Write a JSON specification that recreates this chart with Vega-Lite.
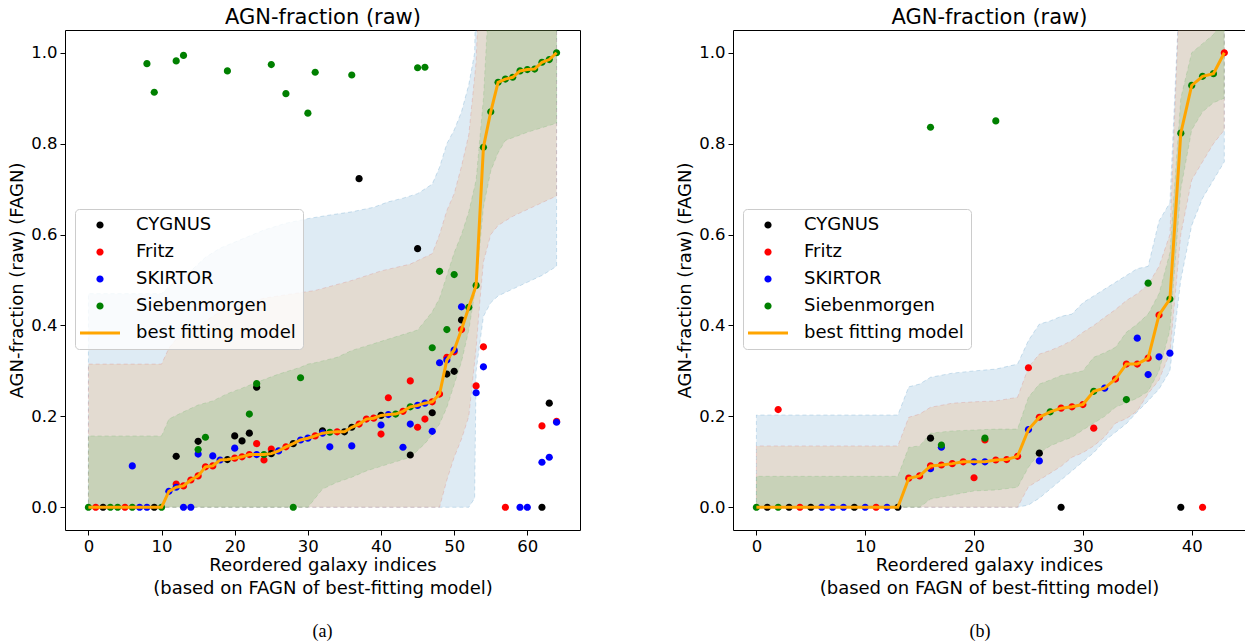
{
 "$schema": "https://vega.github.io/schema/vega-lite/v6.json",
 "padding": {"left": 8, "top": 5, "right": 0, "bottom": 0},
 "config": {
  "font": "DejaVu Sans",
  "view": {"stroke": "#000000", "strokeWidth": 1},
  "axis": {"grid": false, "domain": false, "tickColor": "#000000", "tickSize": 5, "tickWidth": 1, "labelColor": "#000000", "labelFontSize": 16.5, "labelPadding": 3, "titleColor": "#000000", "titleFontSize": 18, "titleFontWeight": "normal"}
 },
 "spacing": 95,
 "resolve": {"scale": {"color": "independent", "shape": "independent"}, "legend": {"color": "independent", "shape": "independent"}},
 "datasets": {
  "bandsA": [
   {"i":0,"band":"outer","lo":0,"hi":0.47},{"i":10,"band":"outer","lo":0,"hi":0.47},{"i":12,"band":"outer","lo":0,"hi":0.5},{"i":14,"band":"outer","lo":0,"hi":0.52},{"i":16,"band":"outer","lo":0,"hi":0.55},{"i":18,"band":"outer","lo":0,"hi":0.57},{"i":21,"band":"outer","lo":0,"hi":0.59},{"i":24,"band":"outer","lo":0,"hi":0.61},{"i":27,"band":"outer","lo":0,"hi":0.625},{"i":30,"band":"outer","lo":0,"hi":0.635},{"i":33,"band":"outer","lo":0,"hi":0.643},{"i":36,"band":"outer","lo":0,"hi":0.65},{"i":39,"band":"outer","lo":0,"hi":0.66},{"i":41,"band":"outer","lo":0,"hi":0.672},{"i":43,"band":"outer","lo":0,"hi":0.68},{"i":45,"band":"outer","lo":0,"hi":0.69},{"i":47,"band":"outer","lo":0,"hi":0.711},{"i":48,"band":"outer","lo":0,"hi":0.748},{"i":49,"band":"outer","lo":0,"hi":0.8},{"i":50,"band":"outer","lo":0,"hi":0.83},{"i":51,"band":"outer","lo":0,"hi":0.87},{"i":52,"band":"outer","lo":0,"hi":0.93},{"i":52.8,"band":"outer","lo":0.02,"hi":1.0},{"i":53,"band":"outer","lo":0.3,"hi":1.2},{"i":54,"band":"outer","lo":0.42,"hi":1.2},{"i":55,"band":"outer","lo":0.45,"hi":1.2},{"i":56,"band":"outer","lo":0.465,"hi":1.2},{"i":58,"band":"outer","lo":0.48,"hi":1.2},{"i":60,"band":"outer","lo":0.495,"hi":1.2},{"i":62,"band":"outer","lo":0.51,"hi":1.2},{"i":64,"band":"outer","lo":0.53,"hi":1.2},
   {"i":0,"band":"middle","lo":0,"hi":0.315},{"i":10,"band":"middle","lo":0,"hi":0.315},{"i":11,"band":"middle","lo":0,"hi":0.35},{"i":12,"band":"middle","lo":0,"hi":0.37},{"i":14,"band":"middle","lo":0,"hi":0.39},{"i":16,"band":"middle","lo":0,"hi":0.41},{"i":18,"band":"middle","lo":0,"hi":0.43},{"i":20,"band":"middle","lo":0,"hi":0.44},{"i":24,"band":"middle","lo":0,"hi":0.46},{"i":28,"band":"middle","lo":0,"hi":0.47},{"i":31,"band":"middle","lo":0,"hi":0.477},{"i":36,"band":"middle","lo":0,"hi":0.499},{"i":40,"band":"middle","lo":0,"hi":0.52},{"i":44,"band":"middle","lo":0,"hi":0.535},{"i":47,"band":"middle","lo":0,"hi":0.558},{"i":48,"band":"middle","lo":0,"hi":0.6},{"i":49,"band":"middle","lo":0.06,"hi":0.653},{"i":50,"band":"middle","lo":0.11,"hi":0.69},{"i":51,"band":"middle","lo":0.15,"hi":0.75},{"i":52,"band":"middle","lo":0.2,"hi":0.82},{"i":53,"band":"middle","lo":0.35,"hi":0.98},{"i":53.5,"band":"middle","lo":0.45,"hi":1.2},{"i":54,"band":"middle","lo":0.54,"hi":1.2},{"i":55,"band":"middle","lo":0.6,"hi":1.2},{"i":56,"band":"middle","lo":0.62,"hi":1.2},{"i":58,"band":"middle","lo":0.64,"hi":1.2},{"i":60,"band":"middle","lo":0.655,"hi":1.2},{"i":62,"band":"middle","lo":0.67,"hi":1.2},{"i":64,"band":"middle","lo":0.685,"hi":1.2},
   {"i":0,"band":"inner","lo":0,"hi":0.157},{"i":10,"band":"inner","lo":0,"hi":0.157},{"i":11,"band":"inner","lo":0,"hi":0.194},{"i":13,"band":"inner","lo":0,"hi":0.21},{"i":15,"band":"inner","lo":0,"hi":0.225},{"i":17,"band":"inner","lo":0,"hi":0.234},{"i":19,"band":"inner","lo":0,"hi":0.25},{"i":21,"band":"inner","lo":0,"hi":0.262},{"i":23,"band":"inner","lo":0,"hi":0.275},{"i":26,"band":"inner","lo":0,"hi":0.293},{"i":29,"band":"inner","lo":0,"hi":0.308},{"i":30,"band":"inner","lo":0,"hi":0.315},{"i":31,"band":"inner","lo":0.02,"hi":0.318},{"i":32,"band":"inner","lo":0.04,"hi":0.322},{"i":34,"band":"inner","lo":0.055,"hi":0.33},{"i":36,"band":"inner","lo":0.066,"hi":0.345},{"i":38,"band":"inner","lo":0.08,"hi":0.355},{"i":40,"band":"inner","lo":0.09,"hi":0.365},{"i":42,"band":"inner","lo":0.1,"hi":0.375},{"i":44,"band":"inner","lo":0.11,"hi":0.385},{"i":45,"band":"inner","lo":0.125,"hi":0.39},{"i":46,"band":"inner","lo":0.14,"hi":0.41},{"i":47,"band":"inner","lo":0.16,"hi":0.43},{"i":48,"band":"inner","lo":0.183,"hi":0.46},{"i":49,"band":"inner","lo":0.22,"hi":0.51},{"i":50,"band":"inner","lo":0.27,"hi":0.56},{"i":51,"band":"inner","lo":0.32,"hi":0.6},{"i":52,"band":"inner","lo":0.39,"hi":0.65},{"i":53,"band":"inner","lo":0.49,"hi":0.72},{"i":54,"band":"inner","lo":0.66,"hi":0.9},{"i":55,"band":"inner","lo":0.74,"hi":1.2},{"i":56,"band":"inner","lo":0.78,"hi":1.2},{"i":57,"band":"inner","lo":0.807,"hi":1.2},{"i":60,"band":"inner","lo":0.825,"hi":1.2},{"i":64,"band":"inner","lo":0.845,"hi":1.2}
  ],
  "bandsB": [
   {"i":0,"band":"outer","lo":0,"hi":0.203},{"i":13,"band":"outer","lo":0,"hi":0.203},{"i":14,"band":"outer","lo":0,"hi":0.265},{"i":15,"band":"outer","lo":0,"hi":0.271},{"i":16,"band":"outer","lo":0,"hi":0.286},{"i":18,"band":"outer","lo":0,"hi":0.295},{"i":20,"band":"outer","lo":0,"hi":0.3},{"i":22,"band":"outer","lo":0,"hi":0.304},{"i":24,"band":"outer","lo":0,"hi":0.315},{"i":25,"band":"outer","lo":0.005,"hi":0.367},{"i":26,"band":"outer","lo":0.02,"hi":0.403},{"i":27,"band":"outer","lo":0.04,"hi":0.41},{"i":28,"band":"outer","lo":0.06,"hi":0.42},{"i":29,"band":"outer","lo":0.08,"hi":0.425},{"i":30,"band":"outer","lo":0.1,"hi":0.45},{"i":31,"band":"outer","lo":0.12,"hi":0.465},{"i":32,"band":"outer","lo":0.146,"hi":0.48},{"i":33,"band":"outer","lo":0.165,"hi":0.495},{"i":34,"band":"outer","lo":0.184,"hi":0.51},{"i":35,"band":"outer","lo":0.21,"hi":0.525},{"i":36,"band":"outer","lo":0.234,"hi":0.53},{"i":37,"band":"outer","lo":0.26,"hi":0.63},{"i":38,"band":"outer","lo":0.3,"hi":0.67},{"i":39,"band":"outer","lo":0.5,"hi":1.2},{"i":40,"band":"outer","lo":0.62,"hi":1.2},{"i":41,"band":"outer","lo":0.68,"hi":1.2},{"i":42,"band":"outer","lo":0.72,"hi":1.2},{"i":43,"band":"outer","lo":0.76,"hi":1.2},
   {"i":0,"band":"middle","lo":0,"hi":0.135},{"i":13,"band":"middle","lo":0,"hi":0.135},{"i":14,"band":"middle","lo":0,"hi":0.198},{"i":15,"band":"middle","lo":0,"hi":0.205},{"i":16,"band":"middle","lo":0,"hi":0.22},{"i":18,"band":"middle","lo":0,"hi":0.229},{"i":20,"band":"middle","lo":0,"hi":0.232},{"i":22,"band":"middle","lo":0,"hi":0.234},{"i":24,"band":"middle","lo":0,"hi":0.242},{"i":25,"band":"middle","lo":0.045,"hi":0.308},{"i":26,"band":"middle","lo":0.06,"hi":0.337},{"i":27,"band":"middle","lo":0.075,"hi":0.345},{"i":28,"band":"middle","lo":0.09,"hi":0.355},{"i":29,"band":"middle","lo":0.11,"hi":0.367},{"i":30,"band":"middle","lo":0.12,"hi":0.385},{"i":31,"band":"middle","lo":0.135,"hi":0.4},{"i":32,"band":"middle","lo":0.155,"hi":0.418},{"i":33,"band":"middle","lo":0.185,"hi":0.435},{"i":34,"band":"middle","lo":0.195,"hi":0.455},{"i":35,"band":"middle","lo":0.212,"hi":0.47},{"i":36,"band":"middle","lo":0.25,"hi":0.49},{"i":37,"band":"middle","lo":0.28,"hi":0.53},{"i":38,"band":"middle","lo":0.34,"hi":0.6},{"i":39,"band":"middle","lo":0.6,"hi":1.2},{"i":40,"band":"middle","lo":0.72,"hi":1.2},{"i":41,"band":"middle","lo":0.76,"hi":1.2},{"i":42,"band":"middle","lo":0.8,"hi":1.2},{"i":43,"band":"middle","lo":0.83,"hi":1.2},
   {"i":0,"band":"inner","lo":0,"hi":0.068},{"i":13,"band":"inner","lo":0,"hi":0.068},{"i":14,"band":"inner","lo":0,"hi":0.132},{"i":15,"band":"inner","lo":0,"hi":0.135},{"i":16,"band":"inner","lo":0.018,"hi":0.163},{"i":18,"band":"inner","lo":0.027,"hi":0.168},{"i":20,"band":"inner","lo":0.036,"hi":0.17},{"i":22,"band":"inner","lo":0.038,"hi":0.172},{"i":24,"band":"inner","lo":0.044,"hi":0.172},{"i":25,"band":"inner","lo":0.088,"hi":0.242},{"i":26,"band":"inner","lo":0.12,"hi":0.271},{"i":27,"band":"inner","lo":0.135,"hi":0.28},{"i":28,"band":"inner","lo":0.145,"hi":0.29},{"i":29,"band":"inner","lo":0.154,"hi":0.295},{"i":30,"band":"inner","lo":0.17,"hi":0.3},{"i":31,"band":"inner","lo":0.185,"hi":0.33},{"i":32,"band":"inner","lo":0.2,"hi":0.34},{"i":33,"band":"inner","lo":0.22,"hi":0.352},{"i":34,"band":"inner","lo":0.23,"hi":0.385},{"i":35,"band":"inner","lo":0.24,"hi":0.403},{"i":36,"band":"inner","lo":0.255,"hi":0.425},{"i":37,"band":"inner","lo":0.3,"hi":0.47},{"i":38,"band":"inner","lo":0.39,"hi":0.56},{"i":39,"band":"inner","lo":0.7,"hi":0.9},{"i":40,"band":"inner","lo":0.83,"hi":1.0},{"i":41,"band":"inner","lo":0.87,"hi":1.02},{"i":42,"band":"inner","lo":0.89,"hi":1.04},{"i":43,"band":"inner","lo":0.9,"hi":1.08}
  ],
  "ptsA": [
   {"i":6,"model":"SKIRTOR","value":0.091,"best":false},{"i":8,"model":"Siebenmorgen","value":0.976,"best":false},{"i":9,"model":"Siebenmorgen","value":0.913,"best":false},
   {"i":12,"model":"CYGNUS","value":0.112,"best":false},{"i":12,"model":"Fritz","value":0.051,"best":false},{"i":12,"model":"Siebenmorgen","value":0.982,"best":false},
   {"i":13,"model":"SKIRTOR","value":0,"best":false},{"i":13,"model":"Siebenmorgen","value":0.994,"best":false},{"i":14,"model":"SKIRTOR","value":0,"best":false},
   {"i":15,"model":"CYGNUS","value":0.145,"best":false},{"i":15,"model":"SKIRTOR","value":0.117,"best":false},{"i":15,"model":"Siebenmorgen","value":0.127,"best":false},
   {"i":16,"model":"Siebenmorgen","value":0.154,"best":false},{"i":17,"model":"SKIRTOR","value":0.113,"best":false},{"i":19,"model":"Siebenmorgen","value":0.96,"best":false},
   {"i":20,"model":"CYGNUS","value":0.157,"best":false},{"i":20,"model":"SKIRTOR","value":0.13,"best":false},{"i":21,"model":"CYGNUS","value":0.146,"best":false},
   {"i":22,"model":"CYGNUS","value":0.163,"best":false},{"i":22,"model":"Siebenmorgen","value":0.205,"best":false},
   {"i":23,"model":"CYGNUS","value":0.264,"best":false},{"i":23,"model":"Fritz","value":0.14,"best":false},{"i":23,"model":"Siebenmorgen","value":0.272,"best":false},
   {"i":24,"model":"Fritz","value":0.104,"best":false},{"i":25,"model":"Fritz","value":0.128,"best":false},{"i":25,"model":"Siebenmorgen","value":0.974,"best":false},
   {"i":27,"model":"Siebenmorgen","value":0.91,"best":false},{"i":28,"model":"Siebenmorgen","value":0,"best":false},{"i":29,"model":"Siebenmorgen","value":0.285,"best":false},
   {"i":30,"model":"Siebenmorgen","value":0.867,"best":false},{"i":31,"model":"Siebenmorgen","value":0.957,"best":false},{"i":32,"model":"CYGNUS","value":0.168,"best":false},
   {"i":33,"model":"SKIRTOR","value":0.133,"best":false},{"i":36,"model":"SKIRTOR","value":0.135,"best":false},{"i":36,"model":"Siebenmorgen","value":0.951,"best":false},
   {"i":37,"model":"CYGNUS","value":0.723,"best":false},{"i":40,"model":"Fritz","value":0.161,"best":false},{"i":40,"model":"SKIRTOR","value":0.181,"best":false},
   {"i":41,"model":"Fritz","value":0.241,"best":false},{"i":43,"model":"SKIRTOR","value":0.132,"best":false},
   {"i":44,"model":"CYGNUS","value":0.115,"best":false},{"i":44,"model":"Fritz","value":0.278,"best":false},{"i":44,"model":"SKIRTOR","value":0.183,"best":false},
   {"i":45,"model":"CYGNUS","value":0.569,"best":false},{"i":45,"model":"Fritz","value":0.176,"best":false},{"i":45,"model":"Siebenmorgen","value":0.967,"best":false},
   {"i":46,"model":"Fritz","value":0.194,"best":false},{"i":46,"model":"Siebenmorgen","value":0.968,"best":false},
   {"i":47,"model":"CYGNUS","value":0.208,"best":false},{"i":47,"model":"SKIRTOR","value":0.167,"best":false},{"i":47,"model":"Siebenmorgen","value":0.351,"best":false},
   {"i":48,"model":"SKIRTOR","value":0.318,"best":false},{"i":48,"model":"Siebenmorgen","value":0.519,"best":false},
   {"i":49,"model":"CYGNUS","value":0.293,"best":false},{"i":49,"model":"Fritz","value":0.33,"best":false},{"i":49,"model":"Siebenmorgen","value":0.391,"best":false},
   {"i":50,"model":"CYGNUS","value":0.299,"best":false},{"i":50,"model":"Fritz","value":0.342,"best":false},{"i":50,"model":"Siebenmorgen","value":0.512,"best":false},
   {"i":51,"model":"CYGNUS","value":0.412,"best":false},{"i":51,"model":"SKIRTOR","value":0.441,"best":false},
   {"i":53,"model":"Fritz","value":0.267,"best":false},{"i":53,"model":"SKIRTOR","value":0.252,"best":false},
   {"i":54,"model":"Fritz","value":0.353,"best":false},{"i":54,"model":"SKIRTOR","value":0.309,"best":false},
   {"i":57,"model":"Fritz","value":0,"best":false},{"i":59,"model":"SKIRTOR","value":0,"best":false},{"i":60,"model":"SKIRTOR","value":0,"best":false},
   {"i":62,"model":"CYGNUS","value":0,"best":false},{"i":62,"model":"Fritz","value":0.179,"best":false},{"i":62,"model":"SKIRTOR","value":0.099,"best":false},
   {"i":63,"model":"CYGNUS","value":0.229,"best":false},{"i":63,"model":"SKIRTOR","value":0.11,"best":false},
   {"i":64,"model":"Fritz","value":0.189,"best":false},{"i":64,"model":"SKIRTOR","value":0.187,"best":false},
   {"i":0,"model":"Siebenmorgen","value":0,"best":true},{"i":1,"model":"Fritz","value":0,"best":true},{"i":2,"model":"CYGNUS","value":0,"best":true},{"i":3,"model":"Siebenmorgen","value":0,"best":true},{"i":4,"model":"Siebenmorgen","value":0,"best":true},{"i":5,"model":"Fritz","value":0,"best":true},{"i":6,"model":"Siebenmorgen","value":0,"best":true},{"i":7,"model":"SKIRTOR","value":0,"best":true},{"i":8,"model":"SKIRTOR","value":0,"best":true},{"i":9,"model":"CYGNUS","value":0,"best":true},{"i":10,"model":"Siebenmorgen","value":0,"best":true},
   {"i":11,"model":"SKIRTOR","value":0.035,"best":true},{"i":12,"model":"SKIRTOR","value":0.044,"best":true},{"i":13,"model":"Fritz","value":0.047,"best":true},{"i":14,"model":"Fritz","value":0.06,"best":true},{"i":15,"model":"Fritz","value":0.069,"best":true},{"i":16,"model":"Fritz","value":0.089,"best":true},{"i":17,"model":"Fritz","value":0.091,"best":true},{"i":18,"model":"SKIRTOR","value":0.104,"best":true},{"i":19,"model":"CYGNUS","value":0.105,"best":true},{"i":20,"model":"Fritz","value":0.108,"best":true},
   {"i":21,"model":"Fritz","value":0.111,"best":true},{"i":22,"model":"Fritz","value":0.116,"best":true},{"i":23,"model":"SKIRTOR","value":0.116,"best":true},{"i":24,"model":"Siebenmorgen","value":0.116,"best":true},{"i":25,"model":"CYGNUS","value":0.118,"best":true},{"i":26,"model":"SKIRTOR","value":0.124,"best":true},{"i":27,"model":"Fritz","value":0.133,"best":true},{"i":28,"model":"CYGNUS","value":0.14,"best":true},{"i":29,"model":"SKIRTOR","value":0.148,"best":true},{"i":30,"model":"SKIRTOR","value":0.152,"best":true},
   {"i":31,"model":"Fritz","value":0.157,"best":true},{"i":32,"model":"SKIRTOR","value":0.163,"best":true},{"i":33,"model":"Siebenmorgen","value":0.165,"best":true},{"i":34,"model":"Fritz","value":0.166,"best":true},{"i":35,"model":"CYGNUS","value":0.166,"best":true},{"i":36,"model":"CYGNUS","value":0.176,"best":true},{"i":37,"model":"Fritz","value":0.183,"best":true},{"i":38,"model":"Fritz","value":0.194,"best":true},{"i":39,"model":"Fritz","value":0.196,"best":true},{"i":40,"model":"CYGNUS","value":0.202,"best":true},
   {"i":41,"model":"SKIRTOR","value":0.204,"best":true},{"i":42,"model":"Siebenmorgen","value":0.205,"best":true},{"i":43,"model":"Fritz","value":0.211,"best":true},{"i":44,"model":"Siebenmorgen","value":0.221,"best":true},{"i":45,"model":"SKIRTOR","value":0.224,"best":true},{"i":46,"model":"SKIRTOR","value":0.229,"best":true},{"i":47,"model":"Fritz","value":0.232,"best":true},{"i":48,"model":"Fritz","value":0.249,"best":true},{"i":49,"model":"SKIRTOR","value":0.324,"best":true},{"i":50,"model":"SKIRTOR","value":0.346,"best":true},
   {"i":51,"model":"Fritz","value":0.391,"best":true},{"i":52,"model":"Siebenmorgen","value":0.44,"best":true},{"i":53,"model":"Siebenmorgen","value":0.488,"best":true},{"i":54,"model":"Siebenmorgen","value":0.792,"best":true},{"i":55,"model":"Siebenmorgen","value":0.87,"best":true},{"i":56,"model":"Siebenmorgen","value":0.935,"best":true},{"i":57,"model":"Siebenmorgen","value":0.942,"best":true},{"i":58,"model":"Siebenmorgen","value":0.946,"best":true},{"i":59,"model":"Siebenmorgen","value":0.96,"best":true},{"i":60,"model":"Siebenmorgen","value":0.963,"best":true},
   {"i":61,"model":"Siebenmorgen","value":0.964,"best":true},{"i":62,"model":"Siebenmorgen","value":0.979,"best":true},{"i":63,"model":"Siebenmorgen","value":0.985,"best":true},{"i":64,"model":"Siebenmorgen","value":1.0,"best":true}
  ],
  "ptsB": [
   {"i":2,"model":"Fritz","value":0.215,"best":false},
   {"i":16,"model":"CYGNUS","value":0.152,"best":false},{"i":16,"model":"SKIRTOR","value":0.085,"best":false},{"i":16,"model":"Siebenmorgen","value":0.836,"best":false},
   {"i":17,"model":"SKIRTOR","value":0.132,"best":false},{"i":17,"model":"Siebenmorgen","value":0.137,"best":false},
   {"i":20,"model":"Fritz","value":0.065,"best":false},{"i":21,"model":"Fritz","value":0.148,"best":false},{"i":21,"model":"Siebenmorgen","value":0.152,"best":false},
   {"i":22,"model":"Siebenmorgen","value":0.85,"best":false},{"i":25,"model":"Fritz","value":0.307,"best":false},
   {"i":26,"model":"CYGNUS","value":0.119,"best":false},{"i":26,"model":"SKIRTOR","value":0.102,"best":false},{"i":28,"model":"CYGNUS","value":0,"best":false},
   {"i":31,"model":"Fritz","value":0.174,"best":false},{"i":34,"model":"Siebenmorgen","value":0.237,"best":false},{"i":35,"model":"SKIRTOR","value":0.372,"best":false},
   {"i":36,"model":"SKIRTOR","value":0.292,"best":false},{"i":36,"model":"Siebenmorgen","value":0.493,"best":false},{"i":37,"model":"SKIRTOR","value":0.331,"best":false},
   {"i":38,"model":"SKIRTOR","value":0.339,"best":false},{"i":39,"model":"CYGNUS","value":0,"best":false},{"i":41,"model":"Fritz","value":0,"best":false},
   {"i":0,"model":"Siebenmorgen","value":0,"best":true},{"i":1,"model":"CYGNUS","value":0,"best":true},{"i":2,"model":"Siebenmorgen","value":0,"best":true},{"i":3,"model":"CYGNUS","value":0,"best":true},{"i":4,"model":"Fritz","value":0,"best":true},{"i":5,"model":"CYGNUS","value":0,"best":true},{"i":6,"model":"SKIRTOR","value":0,"best":true},{"i":7,"model":"SKIRTOR","value":0,"best":true},{"i":8,"model":"SKIRTOR","value":0,"best":true},{"i":9,"model":"CYGNUS","value":0,"best":true},{"i":10,"model":"SKIRTOR","value":0,"best":true},
   {"i":11,"model":"Fritz","value":0,"best":true},{"i":12,"model":"SKIRTOR","value":0,"best":true},{"i":13,"model":"CYGNUS","value":0,"best":true},{"i":14,"model":"Fritz","value":0.064,"best":true},{"i":15,"model":"Fritz","value":0.069,"best":true},{"i":16,"model":"Fritz","value":0.091,"best":true},{"i":17,"model":"Fritz","value":0.093,"best":true},{"i":18,"model":"Fritz","value":0.096,"best":true},{"i":19,"model":"Fritz","value":0.1,"best":true},{"i":20,"model":"SKIRTOR","value":0.1,"best":true},
   {"i":21,"model":"SKIRTOR","value":0.1,"best":true},{"i":22,"model":"Fritz","value":0.104,"best":true},{"i":23,"model":"Fritz","value":0.105,"best":true},{"i":24,"model":"Fritz","value":0.112,"best":true},{"i":25,"model":"SKIRTOR","value":0.171,"best":true},{"i":26,"model":"Fritz","value":0.198,"best":true},{"i":27,"model":"Siebenmorgen","value":0.21,"best":true},{"i":28,"model":"Fritz","value":0.218,"best":true},{"i":29,"model":"Fritz","value":0.221,"best":true},{"i":30,"model":"Fritz","value":0.226,"best":true},
   {"i":31,"model":"Siebenmorgen","value":0.255,"best":true},{"i":32,"model":"SKIRTOR","value":0.262,"best":true},{"i":33,"model":"Fritz","value":0.282,"best":true},{"i":34,"model":"Fritz","value":0.315,"best":true},{"i":35,"model":"Fritz","value":0.315,"best":true},{"i":36,"model":"Fritz","value":0.328,"best":true},{"i":37,"model":"Fritz","value":0.423,"best":true},{"i":38,"model":"Siebenmorgen","value":0.458,"best":true},{"i":39,"model":"Siebenmorgen","value":0.823,"best":true},{"i":40,"model":"Siebenmorgen","value":0.928,"best":true},
   {"i":41,"model":"Siebenmorgen","value":0.948,"best":true},{"i":42,"model":"Siebenmorgen","value":0.954,"best":true},{"i":43,"model":"Fritz","value":1.0,"best":true}
  ]
 },
 "hconcat": [
  {
   "width": 515, "height": 500,
   "title": {"text": "(a)", "orient": "bottom", "font": "Liberation Serif", "fontSize": 18, "fontWeight": "normal", "color": "#000000", "offset": 25},
   "resolve": {"axis": {"x": "independent"}},
   "layer": [
    {"data": {"name": "bandsA"}, "transform": [{"filter": "datum.band == 'outer'"}],
     "mark": {"type": "area", "fill": "#1f77b4", "fillOpacity": 0.15, "stroke": "#1f77b4", "strokeOpacity": 0.2, "strokeDash": [4, 3], "strokeWidth": 1, "clip": true},
     "encoding": {
      "x": {"field": "i", "type": "quantitative", "scale": {"domain": [-3.2, 67.2], "nice": false, "zero": false}, "axis": {"values": [0,10,20,30,40,50,60], "format": "d", "title": ["Reordered galaxy indices", "(based on FAGN of best-fitting model)"], "titlePadding": 2, "titleLineHeight": 23}},
      "y": {"field": "lo", "type": "quantitative", "scale": {"domain": [-0.05, 1.05], "nice": false, "zero": false}, "axis": {"values": [0,0.2,0.4,0.6,0.8,1], "format": ".1f", "title": "AGN-fraction (raw) (FAGN)", "titlePadding": 4}},
      "y2": {"field": "hi"}}},
    {"data": {"name": "bandsA"}, "transform": [{"filter": "datum.band == 'middle'"}],
     "mark": {"type": "area", "fill": "#ff7f0e", "fillOpacity": 0.15, "stroke": "#d62728", "strokeOpacity": 0.15, "strokeDash": [4, 3], "strokeWidth": 1, "clip": true},
     "encoding": {
      "x": {"field": "i", "type": "quantitative", "scale": {"domain": [-3.2, 67.2], "nice": false, "zero": false}, "axis": null},
      "y": {"field": "lo", "type": "quantitative", "scale": {"domain": [-0.05, 1.05], "nice": false, "zero": false}, "axis": {"values": [0,0.2,0.4,0.6,0.8,1], "format": ".1f", "title": "AGN-fraction (raw) (FAGN)", "titlePadding": 4}},
      "y2": {"field": "hi"}}},
    {"data": {"name": "bandsA"}, "transform": [{"filter": "datum.band == 'inner'"}],
     "mark": {"type": "area", "fill": "#2ca02c", "fillOpacity": 0.15, "stroke": "#2ca02c", "strokeOpacity": 0.15, "strokeDash": [4, 3], "strokeWidth": 1, "clip": true},
     "encoding": {
      "x": {"field": "i", "type": "quantitative", "scale": {"domain": [-3.2, 67.2], "nice": false, "zero": false}, "axis": null},
      "y": {"field": "lo", "type": "quantitative", "scale": {"domain": [-0.05, 1.05], "nice": false, "zero": false}, "axis": {"values": [0,0.2,0.4,0.6,0.8,1], "format": ".1f", "title": "AGN-fraction (raw) (FAGN)", "titlePadding": 4}},
      "y2": {"field": "hi"}}},
    {"data": {"name": "ptsA"}, "transform": [{"filter": "!datum.best"}],
     "mark": {"type": "point", "filled": true, "size": 100, "opacity": 1, "strokeWidth": 0},
     "encoding": {
      "x": {"field": "i", "type": "quantitative", "scale": {"domain": [-3.2, 67.2], "nice": false, "zero": false}, "axis": null},
      "y": {"field": "value", "type": "quantitative", "scale": {"domain": [-0.05, 1.05], "nice": false, "zero": false}, "axis": {"values": [0,0.2,0.4,0.6,0.8,1], "format": ".1f", "title": "AGN-fraction (raw) (FAGN)", "titlePadding": 4}},
      "color": {"field": "model", "type": "nominal", "scale": {"domain": ["CYGNUS","Fritz","SKIRTOR","Siebenmorgen","best fitting model"], "range": ["#000000","#ff0000","#0000ff","#008000","#ffa500"]},
       "legend": {"title": null, "orient": "none", "legendX": 10, "legendY": 179, "labelFontSize": 18, "labelColor": "#000000", "labelFont": "DejaVu Sans", "symbolSize": 100, "symbolStrokeWidth": 0, "symbolOpacity": 1, "symbolOffset": 9, "labelOffset": 27, "rowPadding": 9, "padding": 7, "fillColor": "rgba(255,255,255,0.8)", "strokeColor": "#cccccc", "cornerRadius": 4}},
      "shape": {"field": "model", "type": "nominal", "scale": {"domain": ["CYGNUS","Fritz","SKIRTOR","Siebenmorgen","best fitting model"], "range": ["M0.72,0A0.72,0.72,0,1,1,-0.72,0A0.72,0.72,0,1,1,0.72,0Z","M0.72,0A0.72,0.72,0,1,1,-0.72,0A0.72,0.72,0,1,1,0.72,0Z","M0.72,0A0.72,0.72,0,1,1,-0.72,0A0.72,0.72,0,1,1,0.72,0Z","M0.72,0A0.72,0.72,0,1,1,-0.72,0A0.72,0.72,0,1,1,0.72,0Z","M-4,-0.3H4V0.3H-4Z"]},
       "legend": {"title": null, "orient": "none", "legendX": 10, "legendY": 179, "labelFontSize": 18, "labelColor": "#000000", "labelFont": "DejaVu Sans", "symbolSize": 100, "symbolStrokeWidth": 0, "symbolOpacity": 1, "symbolOffset": 9, "labelOffset": 27, "rowPadding": 9, "padding": 7, "fillColor": "rgba(255,255,255,0.8)", "strokeColor": "#cccccc", "cornerRadius": 4}}}},
    {"data": {"name": "ptsA"}, "transform": [{"filter": "datum.best"}],
     "mark": {"type": "point", "filled": true, "size": 100, "opacity": 1, "strokeWidth": 0},
     "encoding": {
      "x": {"field": "i", "type": "quantitative", "scale": {"domain": [-3.2, 67.2], "nice": false, "zero": false}, "axis": null},
      "y": {"field": "value", "type": "quantitative", "scale": {"domain": [-0.05, 1.05], "nice": false, "zero": false}, "axis": {"values": [0,0.2,0.4,0.6,0.8,1], "format": ".1f", "title": "AGN-fraction (raw) (FAGN)", "titlePadding": 4}},
      "color": {"field": "model", "type": "nominal", "scale": {"domain": ["CYGNUS","Fritz","SKIRTOR","Siebenmorgen","best fitting model"], "range": ["#000000","#ff0000","#0000ff","#008000","#ffa500"]}},
      "shape": {"field": "model", "type": "nominal", "scale": {"domain": ["CYGNUS","Fritz","SKIRTOR","Siebenmorgen","best fitting model"], "range": ["M0.72,0A0.72,0.72,0,1,1,-0.72,0A0.72,0.72,0,1,1,0.72,0Z","M0.72,0A0.72,0.72,0,1,1,-0.72,0A0.72,0.72,0,1,1,0.72,0Z","M0.72,0A0.72,0.72,0,1,1,-0.72,0A0.72,0.72,0,1,1,0.72,0Z","M0.72,0A0.72,0.72,0,1,1,-0.72,0A0.72,0.72,0,1,1,0.72,0Z","M-4,-0.3H4V0.3H-4Z"]}}}},
    {"data": {"name": "ptsA"}, "transform": [{"filter": "datum.best"}],
     "mark": {"type": "line", "strokeWidth": 3},
     "encoding": {
      "x": {"field": "i", "type": "quantitative", "scale": {"domain": [-3.2, 67.2], "nice": false, "zero": false}, "axis": {"orient": "top", "labels": false, "ticks": false, "domain": false, "title": "AGN-fraction (raw)", "titleFontSize": 21, "titlePadding": 3}},
      "y": {"field": "value", "type": "quantitative", "scale": {"domain": [-0.05, 1.05], "nice": false, "zero": false}, "axis": {"values": [0,0.2,0.4,0.6,0.8,1], "format": ".1f", "title": "AGN-fraction (raw) (FAGN)", "titlePadding": 4}},
      "color": {"datum": "best fitting model", "type": "nominal", "scale": {"domain": ["CYGNUS","Fritz","SKIRTOR","Siebenmorgen","best fitting model"], "range": ["#000000","#ff0000","#0000ff","#008000","#ffa500"]}}}}
   ]
  },
  {
   "width": 512, "height": 500,
   "title": {"text": "(b)", "orient": "bottom", "font": "Liberation Serif", "fontSize": 18, "fontWeight": "normal", "color": "#000000", "offset": 25, "dx": -9},
   "resolve": {"axis": {"x": "independent"}},
   "layer": [
    {"data": {"name": "bandsB"}, "transform": [{"filter": "datum.band == 'outer'"}],
     "mark": {"type": "area", "fill": "#1f77b4", "fillOpacity": 0.15, "stroke": "#1f77b4", "strokeOpacity": 0.2, "strokeDash": [4, 3], "strokeWidth": 1, "clip": true},
     "encoding": {
      "x": {"field": "i", "type": "quantitative", "scale": {"domain": [-2.15, 44.9], "nice": false, "zero": false}, "axis": {"values": [0,10,20,30,40], "format": "d", "title": ["Reordered galaxy indices", "(based on FAGN of best-fitting model)"], "titlePadding": 2, "titleLineHeight": 23}},
      "y": {"field": "lo", "type": "quantitative", "scale": {"domain": [-0.05, 1.05], "nice": false, "zero": false}, "axis": {"values": [0,0.2,0.4,0.6,0.8,1], "format": ".1f", "title": "AGN-fraction (raw) (FAGN)", "titlePadding": 4}},
      "y2": {"field": "hi"}}},
    {"data": {"name": "bandsB"}, "transform": [{"filter": "datum.band == 'middle'"}],
     "mark": {"type": "area", "fill": "#ff7f0e", "fillOpacity": 0.15, "stroke": "#d62728", "strokeOpacity": 0.15, "strokeDash": [4, 3], "strokeWidth": 1, "clip": true},
     "encoding": {
      "x": {"field": "i", "type": "quantitative", "scale": {"domain": [-2.15, 44.9], "nice": false, "zero": false}, "axis": null},
      "y": {"field": "lo", "type": "quantitative", "scale": {"domain": [-0.05, 1.05], "nice": false, "zero": false}, "axis": {"values": [0,0.2,0.4,0.6,0.8,1], "format": ".1f", "title": "AGN-fraction (raw) (FAGN)", "titlePadding": 4}},
      "y2": {"field": "hi"}}},
    {"data": {"name": "bandsB"}, "transform": [{"filter": "datum.band == 'inner'"}],
     "mark": {"type": "area", "fill": "#2ca02c", "fillOpacity": 0.15, "stroke": "#2ca02c", "strokeOpacity": 0.15, "strokeDash": [4, 3], "strokeWidth": 1, "clip": true},
     "encoding": {
      "x": {"field": "i", "type": "quantitative", "scale": {"domain": [-2.15, 44.9], "nice": false, "zero": false}, "axis": null},
      "y": {"field": "lo", "type": "quantitative", "scale": {"domain": [-0.05, 1.05], "nice": false, "zero": false}, "axis": {"values": [0,0.2,0.4,0.6,0.8,1], "format": ".1f", "title": "AGN-fraction (raw) (FAGN)", "titlePadding": 4}},
      "y2": {"field": "hi"}}},
    {"data": {"name": "ptsB"}, "transform": [{"filter": "!datum.best"}],
     "mark": {"type": "point", "filled": true, "size": 100, "opacity": 1, "strokeWidth": 0},
     "encoding": {
      "x": {"field": "i", "type": "quantitative", "scale": {"domain": [-2.15, 44.9], "nice": false, "zero": false}, "axis": null},
      "y": {"field": "value", "type": "quantitative", "scale": {"domain": [-0.05, 1.05], "nice": false, "zero": false}, "axis": {"values": [0,0.2,0.4,0.6,0.8,1], "format": ".1f", "title": "AGN-fraction (raw) (FAGN)", "titlePadding": 4}},
      "color": {"field": "model", "type": "nominal", "scale": {"domain": ["CYGNUS","Fritz","SKIRTOR","Siebenmorgen","best fitting model"], "range": ["#000000","#ff0000","#0000ff","#008000","#ffa500"]},
       "legend": {"title": null, "orient": "none", "legendX": 10, "legendY": 179, "labelFontSize": 18, "labelColor": "#000000", "labelFont": "DejaVu Sans", "symbolSize": 100, "symbolStrokeWidth": 0, "symbolOpacity": 1, "symbolOffset": 9, "labelOffset": 27, "rowPadding": 9, "padding": 7, "fillColor": "rgba(255,255,255,0.8)", "strokeColor": "#cccccc", "cornerRadius": 4}},
      "shape": {"field": "model", "type": "nominal", "scale": {"domain": ["CYGNUS","Fritz","SKIRTOR","Siebenmorgen","best fitting model"], "range": ["M0.72,0A0.72,0.72,0,1,1,-0.72,0A0.72,0.72,0,1,1,0.72,0Z","M0.72,0A0.72,0.72,0,1,1,-0.72,0A0.72,0.72,0,1,1,0.72,0Z","M0.72,0A0.72,0.72,0,1,1,-0.72,0A0.72,0.72,0,1,1,0.72,0Z","M0.72,0A0.72,0.72,0,1,1,-0.72,0A0.72,0.72,0,1,1,0.72,0Z","M-4,-0.3H4V0.3H-4Z"]},
       "legend": {"title": null, "orient": "none", "legendX": 10, "legendY": 179, "labelFontSize": 18, "labelColor": "#000000", "labelFont": "DejaVu Sans", "symbolSize": 100, "symbolStrokeWidth": 0, "symbolOpacity": 1, "symbolOffset": 9, "labelOffset": 27, "rowPadding": 9, "padding": 7, "fillColor": "rgba(255,255,255,0.8)", "strokeColor": "#cccccc", "cornerRadius": 4}}}},
    {"data": {"name": "ptsB"}, "transform": [{"filter": "datum.best"}],
     "mark": {"type": "point", "filled": true, "size": 100, "opacity": 1, "strokeWidth": 0},
     "encoding": {
      "x": {"field": "i", "type": "quantitative", "scale": {"domain": [-2.15, 44.9], "nice": false, "zero": false}, "axis": null},
      "y": {"field": "value", "type": "quantitative", "scale": {"domain": [-0.05, 1.05], "nice": false, "zero": false}, "axis": {"values": [0,0.2,0.4,0.6,0.8,1], "format": ".1f", "title": "AGN-fraction (raw) (FAGN)", "titlePadding": 4}},
      "color": {"field": "model", "type": "nominal", "scale": {"domain": ["CYGNUS","Fritz","SKIRTOR","Siebenmorgen","best fitting model"], "range": ["#000000","#ff0000","#0000ff","#008000","#ffa500"]}},
      "shape": {"field": "model", "type": "nominal", "scale": {"domain": ["CYGNUS","Fritz","SKIRTOR","Siebenmorgen","best fitting model"], "range": ["M0.72,0A0.72,0.72,0,1,1,-0.72,0A0.72,0.72,0,1,1,0.72,0Z","M0.72,0A0.72,0.72,0,1,1,-0.72,0A0.72,0.72,0,1,1,0.72,0Z","M0.72,0A0.72,0.72,0,1,1,-0.72,0A0.72,0.72,0,1,1,0.72,0Z","M0.72,0A0.72,0.72,0,1,1,-0.72,0A0.72,0.72,0,1,1,0.72,0Z","M-4,-0.3H4V0.3H-4Z"]}}}},
    {"data": {"name": "ptsB"}, "transform": [{"filter": "datum.best"}],
     "mark": {"type": "line", "strokeWidth": 3},
     "encoding": {
      "x": {"field": "i", "type": "quantitative", "scale": {"domain": [-2.15, 44.9], "nice": false, "zero": false}, "axis": {"orient": "top", "labels": false, "ticks": false, "domain": false, "title": "AGN-fraction (raw)", "titleFontSize": 21, "titlePadding": 3}},
      "y": {"field": "value", "type": "quantitative", "scale": {"domain": [-0.05, 1.05], "nice": false, "zero": false}, "axis": {"values": [0,0.2,0.4,0.6,0.8,1], "format": ".1f", "title": "AGN-fraction (raw) (FAGN)", "titlePadding": 4}},
      "color": {"datum": "best fitting model", "type": "nominal", "scale": {"domain": ["CYGNUS","Fritz","SKIRTOR","Siebenmorgen","best fitting model"], "range": ["#000000","#ff0000","#0000ff","#008000","#ffa500"]}}}}
   ]
  }
 ]
}
